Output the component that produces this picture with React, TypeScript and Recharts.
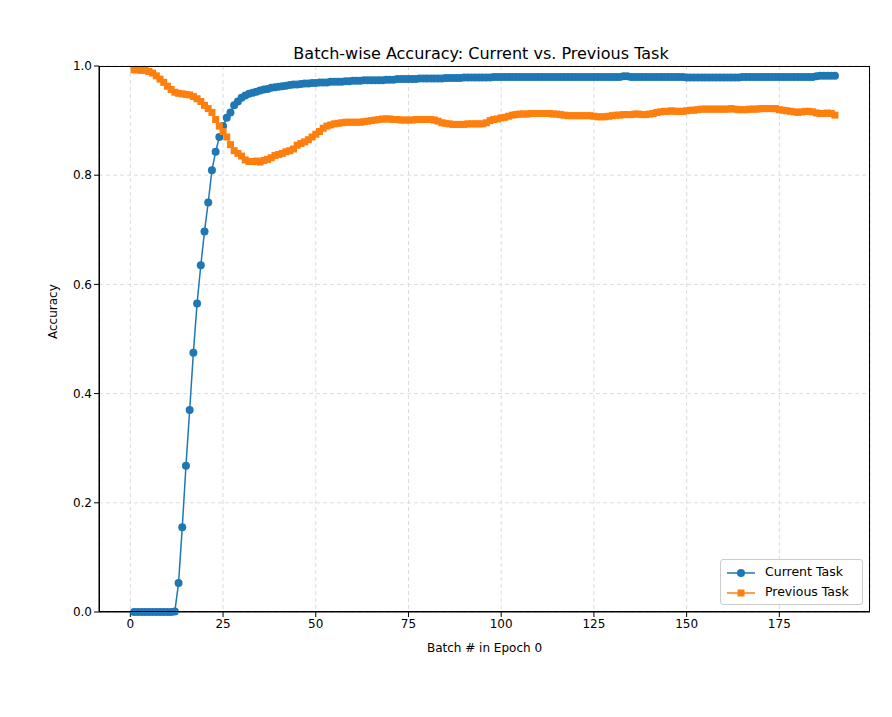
import React from "react";
import { LineChart, Line, XAxis, YAxis, CartesianGrid } from "recharts";

const currentTask: number[] = [
  0, 0, 0, 0, 0, 0, 0, 0, 0, 0, 0, 0.001,
  0.053, 0.155, 0.268, 0.37, 0.475, 0.565, 0.635, 0.697, 0.75, 0.809, 0.843, 0.87, 0.89, 0.905, 0.915, 0.928, 0.935, 0.942,
  0.946, 0.949, 0.951, 0.953, 0.955, 0.957, 0.958, 0.96, 0.961, 0.962,
  0.963, 0.964, 0.965, 0.966, 0.966, 0.967, 0.968, 0.968, 0.969, 0.969,
  0.97, 0.97, 0.97, 0.971, 0.971, 0.971, 0.971, 0.972, 0.972, 0.973,
  0.973, 0.973, 0.974, 0.974, 0.974, 0.974, 0.974, 0.974, 0.975, 0.975,
  0.975, 0.976, 0.976, 0.976, 0.976, 0.976, 0.976, 0.977, 0.977, 0.977,
  0.977, 0.977, 0.977, 0.977, 0.978, 0.978, 0.978, 0.978, 0.978, 0.979,
  0.979, 0.979, 0.979, 0.979, 0.979, 0.979, 0.979, 0.98, 0.98, 0.98,
  0.98, 0.98, 0.98, 0.98, 0.98, 0.98, 0.98, 0.98, 0.98, 0.98,
  0.98, 0.98, 0.98, 0.98, 0.98, 0.98, 0.98, 0.98, 0.98, 0.98,
  0.98, 0.98, 0.98, 0.98, 0.98, 0.98, 0.98, 0.98, 0.98, 0.98,
  0.98, 0.98, 0.981, 0.981, 0.98, 0.98, 0.98, 0.98, 0.98, 0.98,
  0.98, 0.98, 0.98, 0.98, 0.98, 0.98, 0.98, 0.98, 0.98, 0.979,
  0.979, 0.979, 0.979, 0.979, 0.979, 0.979, 0.979, 0.979, 0.979, 0.979,
  0.979, 0.979, 0.979, 0.979, 0.98, 0.98, 0.98, 0.98, 0.98, 0.98,
  0.98, 0.98, 0.98, 0.98, 0.98, 0.98, 0.98, 0.98, 0.98, 0.98,
  0.98, 0.98, 0.98, 0.98, 0.981, 0.982, 0.982, 0.982, 0.982, 0.982,
];

const previousTask: number[] = [
  0.993, 0.993, 0.992, 0.992, 0.99, 0.987, 0.982, 0.976, 0.97, 0.963,
  0.957, 0.952, 0.95, 0.949, 0.948, 0.947, 0.944, 0.94, 0.935, 0.928,
  0.922, 0.915, 0.902, 0.89, 0.88, 0.87, 0.856, 0.845, 0.84, 0.835,
  0.828, 0.825, 0.825, 0.826, 0.824, 0.827, 0.829, 0.832, 0.836, 0.838,
  0.84, 0.843, 0.845, 0.848, 0.855, 0.858, 0.861, 0.865, 0.87, 0.875,
  0.88, 0.886, 0.89, 0.892, 0.894, 0.895, 0.896, 0.897, 0.897, 0.897,
  0.897, 0.897, 0.898, 0.899, 0.9, 0.901, 0.902, 0.903, 0.903, 0.903,
  0.902, 0.902, 0.901, 0.901, 0.901, 0.901, 0.902, 0.902, 0.902, 0.902,
  0.902, 0.901, 0.899, 0.896, 0.895, 0.894, 0.893, 0.893, 0.893, 0.893,
  0.894, 0.894, 0.894, 0.894, 0.894, 0.896, 0.9, 0.902, 0.903, 0.905,
  0.906, 0.908, 0.91, 0.911, 0.912, 0.912, 0.912, 0.913, 0.913, 0.913,
  0.913, 0.913, 0.913, 0.912, 0.912, 0.911, 0.91, 0.909, 0.909, 0.909,
  0.909, 0.909, 0.909, 0.909, 0.908, 0.907, 0.907, 0.907, 0.908, 0.909,
  0.91, 0.91, 0.911, 0.911, 0.911, 0.912, 0.912, 0.911, 0.911, 0.912,
  0.913, 0.915, 0.916, 0.917, 0.917, 0.918, 0.917, 0.917, 0.917, 0.918,
  0.919, 0.919, 0.92, 0.921, 0.921, 0.921, 0.921, 0.921, 0.921, 0.921,
  0.921, 0.922, 0.921, 0.92, 0.92, 0.92, 0.921, 0.921, 0.921, 0.922,
  0.922, 0.922, 0.922, 0.922, 0.92, 0.919, 0.918, 0.917, 0.916, 0.915,
  0.916, 0.917, 0.917, 0.916, 0.914, 0.913, 0.913, 0.914, 0.913, 0.91,
];

const xTicks = [0, 25, 50, 75, 100, 125, 150, 175];
const yTicks = [0, 0.2, 0.4, 0.6, 0.8, 1.0];

const data = currentTask.map((c, i) => ({ batch: i + 1, current: c, previous: previousTask[i] }));

const font = "DejaVu Sans, sans-serif";

const Square = (props: any) => {
  const { cx, cy } = props;
  if (cx == null || cy == null) return null;
  return <rect x={cx - 3.5} y={cy - 3.5} width={7} height={7} fill="#ff7f0e" />;
};

export default function App() {
  return (
    <div style={{ position: "relative", width: 884, height: 709, fontFamily: font, background: "#fff" }}>
      <div style={{ position: "absolute", left: 0, width: 946, top: 36, textAlign: "center", fontSize: 16, color: "#000" }}>
        Batch-wise Accuracy: Current vs. Previous Task
      </div>
      <LineChart width={884} height={709} data={data} margin={{ top: 58, right: 22, bottom: 75, left: 0 }}>
        <CartesianGrid stroke="#dcdcdc" strokeDasharray="4 3" />
        <XAxis
          dataKey="batch"
          type="number"
          domain={[-8.45, 199.45]}
          ticks={xTicks}
          allowDataOverflow
          height={30}
          tick={{ fill: "#000", fontSize: 12, fontFamily: font }}
          tickLine={{ stroke: "#000" }}
          axisLine={{ stroke: "#000" }}
          tickSize={5}
          label={{ value: "Batch # in Epoch 0", position: "insideBottom", offset: -10, fill: "#000", fontSize: 12, fontFamily: font }}
        />
        <YAxis
          type="number"
          domain={[0, 1]}
          ticks={yTicks}
          width={91}
          tickFormatter={(v: number) => v.toFixed(1)}
          tick={{ fill: "#000", fontSize: 12, fontFamily: font }}
          tickLine={{ stroke: "#000" }}
          axisLine={{ stroke: "#000" }}
          tickSize={5}
          label={{ value: "Accuracy", angle: -90, position: "insideLeft", offset: 45, fill: "#000", fontSize: 12, fontFamily: font }}
        />
        <Line dataKey="current" stroke="#1f77b4" strokeWidth={1.5} isAnimationActive={false}
          dot={{ r: 4, fill: "#1f77b4", stroke: "#1f77b4", strokeWidth: 0 }} />
        <Line dataKey="previous" stroke="#ff7f0e" strokeWidth={1.5} isAnimationActive={false}
          dot={<Square />} />
      </LineChart>
      <div style={{ position: "absolute", left: 91, top: 58, width: 771, height: 546, border: "1px solid #000", boxSizing: "border-box", pointerEvents: "none", marginLeft: -0.5, marginTop: -0.5 }} />
      <div style={{ position: "absolute", left: 712, top: 551, width: 141, height: 44, border: "1px solid #ccc", borderRadius: 3, background: "rgba(255,255,255,0.9)", fontSize: 12.5, color: "#000" }}>
        <svg style={{ position: "absolute", left: 6, top: 6 }} width={30} height={34}>
          <line x1={0} y1={7} x2={28} y2={7} stroke="#1f77b4" strokeWidth={1.5} />
          <circle cx={14} cy={7} r={4} fill="#1f77b4" />
          <line x1={0} y1={27} x2={28} y2={27} stroke="#ff7f0e" strokeWidth={1.5} />
          <rect x={10.5} y={23.5} width={7} height={7} fill="#ff7f0e" />
        </svg>
        <div style={{ position: "absolute", left: 44, top: 4 }}>Current Task</div>
        <div style={{ position: "absolute", left: 44, top: 24 }}>Previous Task</div>
      </div>
    </div>
  );
}
